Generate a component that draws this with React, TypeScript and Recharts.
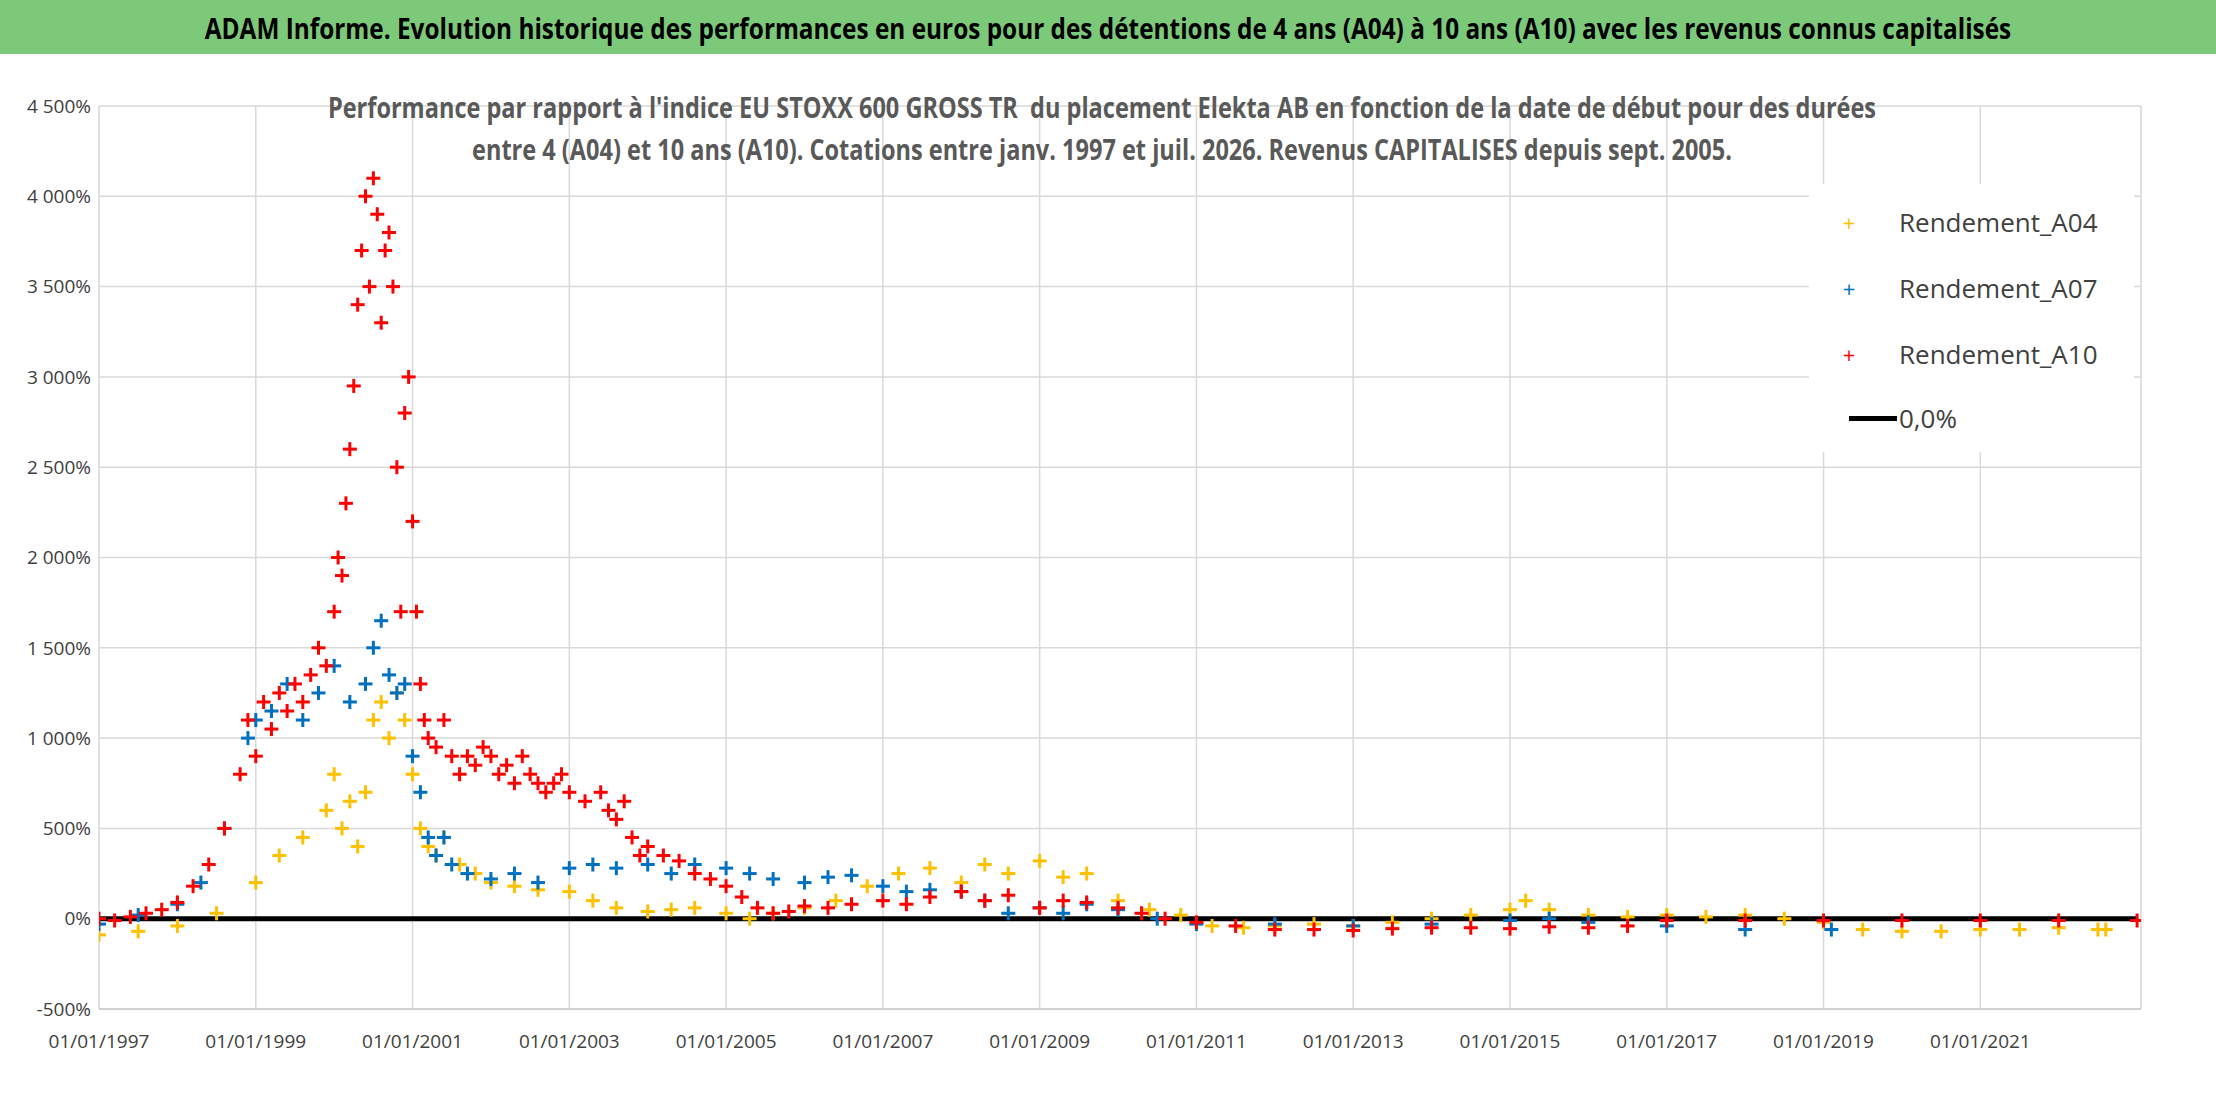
import React from "react";
import { ComposedChart, Scatter, XAxis, YAxis, CartesianGrid, ReferenceLine } from "recharts";

const a10Dates = [1997.0,1997.2,1997.4,1997.6,1997.8,1998.0,1998.2,1998.4,1998.6,1998.8,1998.9,1999.0,1999.1,1999.2,1999.3,1999.4,1999.5,1999.6,1999.7,1999.8,1999.9,2000.0,2000.05,2000.1,2000.15,2000.2,2000.25,2000.3,2000.35,2000.4,2000.45,2000.5,2000.55,2000.6,2000.65,2000.7,2000.75,2000.8,2000.85,2000.9,2000.95,2001.0,2001.05,2001.1,2001.15,2001.2,2001.3,2001.4,2001.5,2001.6,2001.7,2001.8,2001.9,2002.0,2002.1,2002.2,2002.3,2002.4,2002.5,2002.6,2002.7,2002.8,2002.9,2003.0,2003.2,2003.4,2003.5,2003.6,2003.7,2003.8,2003.9,2004.0,2004.2,2004.4,2004.6,2004.8,2005.0,2005.2,2005.4,2005.6,2005.8,2006.0,2006.3,2006.6,2007.0,2007.3,2007.6,2008.0,2008.3,2008.6,2009.0,2009.3,2009.6,2010.0,2010.3,2010.6,2011.0,2011.5,2012.0,2012.5,2013.0,2013.5,2014.0,2014.5,2015.0,2015.5,2016.0,2016.5,2017.0,2018.0,2019.0,2020.0,2021.0,2022.0,2023.0];
const a10Values = [0,-10,10,30,50,90,180,300,500,800,1100,900,1200,1050,1250,1150,1300,1200,1350,1500,1400,1700,2000,1900,2300,2600,2950,3400,3700,4000,3500,4100,3900,3300,3700,3800,3500,2500,1700,2800,3000,2200,1700,1300,1100,1000,950,1100,900,800,900,850,950,900,800,850,750,900,800,750,700,750,800,700,650,700,600,550,650,450,350,400,350,320,250,220,180,120,60,30,40,70,60,80,100,80,120,150,100,130,60,100,90,60,30,0,-20,-40,-60,-60,-65,-55,-50,-50,-55,-45,-50,-40,-10,-10,-10,-10,-10,-10,-10];

const a07Dates = [1997.0,1997.5,1998.0,1998.3,1998.6,1998.9,1999.0,1999.2,1999.4,1999.6,1999.8,2000.0,2000.2,2000.4,2000.5,2000.6,2000.7,2000.8,2000.9,2001.0,2001.1,2001.2,2001.3,2001.4,2001.5,2001.7,2002.0,2002.3,2002.6,2003.0,2003.3,2003.6,2004.0,2004.3,2004.6,2005.0,2005.3,2005.6,2006.0,2006.3,2006.6,2007.0,2007.3,2007.6,2008.0,2008.3,2008.6,2009.0,2009.3,2009.6,2010.0,2010.5,2011.0,2012.0,2013.0,2014.0,2015.0,2015.5,2016.0,2017.0,2018.0,2019.1];
const a07Values = [-30,20,80,200,500,1000,1100,1150,1300,1100,1250,1400,1200,1300,1500,1650,1350,1250,1300,900,700,450,350,450,300,250,220,250,200,280,300,280,300,250,300,280,250,220,200,230,240,180,150,160,150,100,30,60,30,80,50,0,-30,-30,-40,-30,-10,0,-20,-40,-60,-60];

const a04Dates = [1997.0,1997.5,1998.0,1998.5,1999.0,1999.3,1999.6,1999.9,2000.0,2000.1,2000.2,2000.3,2000.4,2000.5,2000.6,2000.7,2000.8,2000.9,2001.0,2001.1,2001.2,2001.3,2001.4,2001.6,2001.8,2002.0,2002.3,2002.6,2003.0,2003.3,2003.6,2004.0,2004.3,2004.6,2005.0,2005.3,2005.6,2006.0,2006.4,2006.8,2007.2,2007.6,2008.0,2008.3,2008.6,2009.0,2009.3,2009.6,2010.0,2010.4,2010.8,2011.2,2011.6,2012.0,2012.5,2013.0,2013.5,2014.0,2014.5,2015.0,2015.2,2015.5,2016.0,2016.5,2017.0,2017.5,2018.0,2018.5,2019.0,2019.5,2020.0,2020.5,2021.0,2021.5,2022.0,2022.5,2022.6];
const a04Values = [-90,-70,-40,30,200,350,450,600,800,500,650,400,700,1100,1200,1000,1250,1100,800,500,400,350,450,300,250,200,180,160,150,100,60,40,50,60,30,0,30,60,100,180,250,280,200,300,250,320,230,250,100,50,20,-40,-50,-40,-30,-40,-20,0,20,50,100,50,20,10,20,10,20,0,-20,-60,-70,-70,-60,-60,-50,-60,-60];

const xTicks = [1997,1999,2001,2003,2005,2007,2009,2011,2013,2015,2017,2019,2021];
const yTicks = [-500,0,500,1000,1500,2000,2500,3000,3500,4000,4500];
const seriesNames = ["Rendement_A04","Rendement_A07","Rendement_A10"];
const colors = ["#FFC000","#0070C0","#FF0000"];

const toPts = (d: number[], v: number[]) => d.map((x, i) => ({ x, y: v[i] }));
const FONT = "'Open Sans',sans-serif";

const plus = (color: string) => (p: any) => {
  const { cx, cy } = p;
  if (cx == null || cy == null) return <g />;
  const s = 7;
  return (
    <g stroke={color} strokeWidth={3}>
      <line x1={cx - s} y1={cy} x2={cx + s} y2={cy} />
      <line x1={cx} y1={cy - s} x2={cx} y2={cy + s} />
    </g>
  );
};

const fmtY = (v: number) => {
  const a = Math.abs(v);
  const s = a >= 1000 ? `${Math.floor(a / 1000)} ${String(a % 1000).padStart(3, "0")}` : `${a}`;
  return `${v < 0 ? "-" : ""}${s}%`;
};

const narrow = (w: number): React.CSSProperties => ({ whiteSpace: "nowrap", transform: "scaleX(0.84)", transformOrigin: "center", width: w });

export default function App() {
  return (
    <div style={{ position: "absolute", left: 0, top: 0, width: 2216, height: 1102, background: "#fff", fontFamily: FONT, overflow: "hidden" }}>
      <div style={{ position: "absolute", left: 0, top: 0, width: 2216, height: 54, background: "#7DC97A", display: "flex", alignItems: "center", justifyContent: "center" }}>
        <div style={{ ...narrow(2216), textAlign: "center", fontWeight: 700, fontSize: 29, color: "#000" }}>
          ADAM Informe. Evolution historique des performances en euros pour des détentions de 4 ans (A04) à 10 ans (A10) avec les revenus connus capitalisés
        </div>
      </div>
      <div style={{ position: "absolute", top: 54 }}>
        <ComposedChart width={2216} height={1048} margin={{ top: 52, right: 75, bottom: 63, left: 0 }}>
          <CartesianGrid stroke="#D9D9D9" strokeWidth={1.5} />
          <XAxis type="number" dataKey="x" domain={[1997, 2023.05]} ticks={xTicks} tickFormatter={(v) => `01/01/${v}`} tick={{ fontSize: 19, fill: "#404040", fontFamily: FONT, dy: 18 }} tickLine={false} axisLine={{ stroke: "#BFBFBF" }} allowDataOverflow />
          <YAxis type="number" dataKey="y" width={99} domain={[-500, 4500]} ticks={yTicks} tickFormatter={fmtY} tick={{ fontSize: 19, fill: "#404040", fontFamily: FONT }} tickLine={false} axisLine={false} />
          <ReferenceLine segment={[{ x: 1997, y: 0 }, { x: 2023, y: 0 }]} stroke="#000" strokeWidth={5} />
          <Scatter name={seriesNames[0]} data={toPts(a04Dates, a04Values)} shape={plus(colors[0])} isAnimationActive={false} />
          <Scatter name={seriesNames[1]} data={toPts(a07Dates, a07Values)} shape={plus(colors[1])} isAnimationActive={false} />
          <Scatter name={seriesNames[2]} data={toPts(a10Dates, a10Values)} shape={plus(colors[2])} isAnimationActive={false} />
        </ComposedChart>
      </div>
      <div style={{ position: "absolute", left: 0, top: 86, width: 2216, fontSize: 28, fontWeight: 700, color: "#595959", lineHeight: "42px", textAlign: "center" }}>
        <div style={{ ...narrow(2216), marginLeft: -6 }}>Performance par rapport à l'indice EU STOXX 600 GROSS TR&nbsp; du placement Elekta AB en fonction de la date de début pour des durées</div>
        <div style={{ ...narrow(2216), marginLeft: -6 }}>entre 4 (A04) et 10 ans (A10). Cotations entre janv. 1997 et juil. 2026. Revenus CAPITALISES depuis sept. 2005.</div>
      </div>
      <div style={{ position: "absolute", left: 1809, top: 184, width: 325, height: 268, background: "#fff", fontSize: 26, color: "#404040" }}>
        {seriesNames.map((n, i) => (
          <div key={n} style={{ position: "absolute", left: 20, top: 20 + i * 66, display: "flex", alignItems: "center" }}>
            <span style={{ color: colors[i], fontSize: 22, width: 40, display: "inline-block", textAlign: "center" }}>+</span>
            <span style={{ marginLeft: 30 }}>{n}</span>
          </div>
        ))}
        <div style={{ position: "absolute", left: 40, top: 216, display: "flex", alignItems: "center" }}>
          <span style={{ display: "inline-block", width: 48, height: 5, background: "#000" }} />
          <span style={{ marginLeft: 2 }}>0,0%</span>
        </div>
      </div>
    </div>
  );
}
